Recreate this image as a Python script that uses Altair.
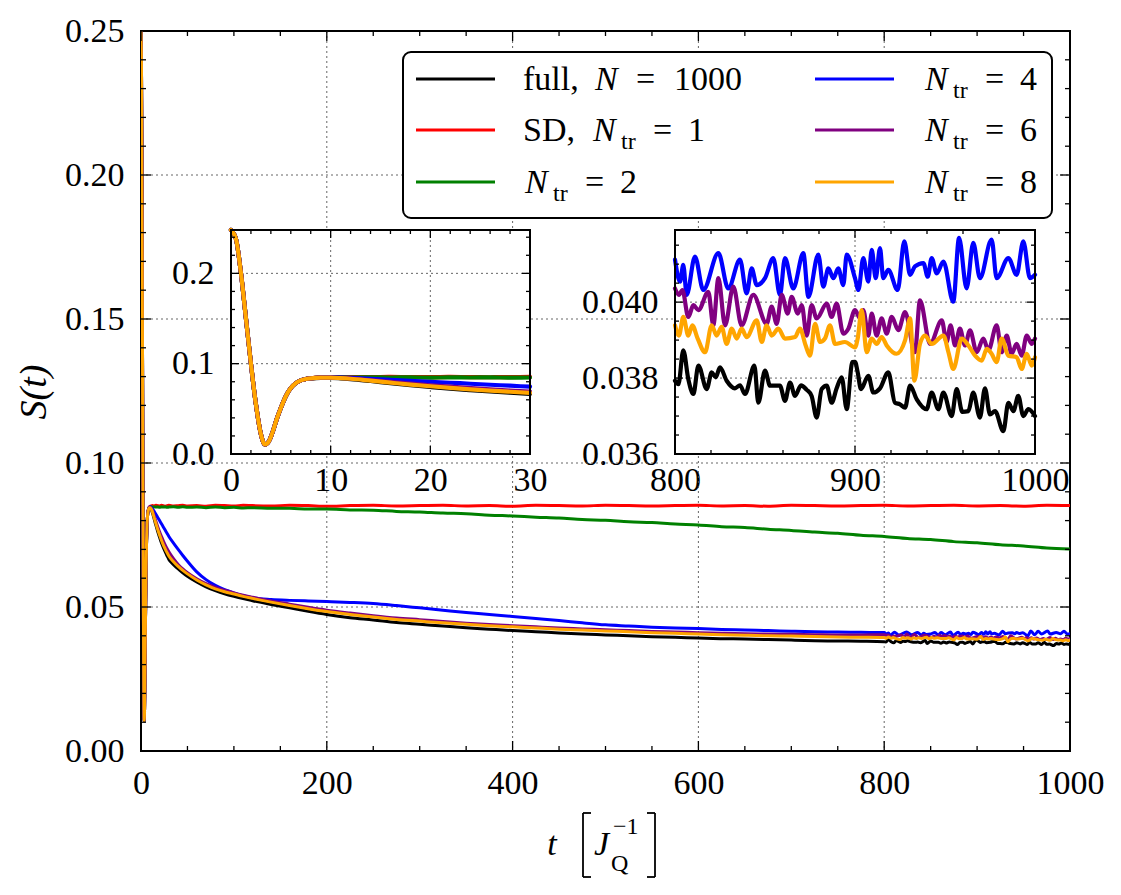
import altair as alt
import pandas as pd

# ------------------------------------------------------------------ data
SERIES = ["full", "SD1", "Ntr2", "Ntr4", "Ntr6", "Ntr8"]
COLORS = ["#000000", "#ff0000", "#008000", "#0000ff", "#800080", "#ffa500"]

# common early transient (all series identical)
T_EARLY = [0, 0.5, 1.0, 1.5, 2.0, 2.5, 3.0, 3.4, 3.8, 4.2, 4.6, 5.0, 5.5, 6.0, 6.5, 7.0, 7.5, 8.0]
S_EARLY = [0.250, 0.238, 0.200, 0.150, 0.100, 0.055, 0.022, 0.0105, 0.014, 0.025, 0.039, 0.051,
           0.064, 0.073, 0.0785, 0.0815, 0.083, 0.0838]

T_MID = [9, 10, 11, 12, 14, 16, 18, 20, 22, 24, 26, 28, 30, 35, 40, 45, 50, 60, 70, 80, 90, 100,
         110, 120, 140, 160, 180, 200, 225, 250, 275, 300, 325, 350, 375, 400, 425, 450, 475, 500,
         525, 550, 575, 600, 625, 650, 675, 700, 725, 750, 775]

BLACK_MID = [0.0843, 0.0843, 0.0838, 0.0830, 0.0808, 0.0784, 0.0762, 0.0742, 0.0723, 0.0707, 0.0692,
             0.0678, 0.0665, 0.0647, 0.0632, 0.0619, 0.0607, 0.0587, 0.0570, 0.0557, 0.0546, 0.0537,
             0.0529, 0.0522, 0.0509, 0.0497, 0.0485, 0.0474, 0.0463, 0.0455, 0.0446, 0.0440, 0.0434,
             0.0428, 0.0423, 0.0418, 0.0414, 0.0410, 0.0406, 0.0403, 0.0400, 0.0397, 0.0395, 0.0392,
             0.0390, 0.0389, 0.0387, 0.0385, 0.0383, 0.0382, 0.0381]
RED_MID = [0.0848, 0.0850, 0.0851, 0.0852, 0.0851, 0.0853, 0.0852, 0.0851, 0.0853, 0.0852, 0.0850,
           0.0852, 0.0853, 0.0851, 0.0852, 0.0853, 0.0851, 0.0852, 0.0850, 0.0853, 0.0852, 0.0851,
           0.0853, 0.0852, 0.0851, 0.0853, 0.0852, 0.0850, 0.0852, 0.0853, 0.0851, 0.0852, 0.0853,
           0.0851, 0.0852, 0.0850, 0.0853, 0.0852, 0.0851, 0.0853, 0.0852, 0.0851, 0.0852, 0.0853,
           0.0851, 0.0852, 0.0850, 0.0853, 0.0852, 0.0851, 0.0852]
GREEN_MID = [0.0846, 0.0847, 0.0848, 0.0847, 0.0848, 0.0847, 0.0848, 0.0846, 0.0848, 0.0847, 0.0848,
             0.0846, 0.0847, 0.0848, 0.0846, 0.0848, 0.0846, 0.0847, 0.0845, 0.0847, 0.0845, 0.0846,
             0.0844, 0.0845, 0.0843, 0.0843, 0.0840, 0.0840, 0.0837, 0.0836, 0.0832, 0.0830, 0.0826,
             0.0824, 0.0819, 0.0816, 0.0812, 0.0809, 0.0804, 0.0801, 0.0796, 0.0793, 0.0788, 0.0785,
             0.0779, 0.0776, 0.0770, 0.0766, 0.0760, 0.0756, 0.0749]
BLUE_MID = [0.0847, 0.0848, 0.0845, 0.0842, 0.0833, 0.0822, 0.0811, 0.0800, 0.0789, 0.0778, 0.0767,
            0.0756, 0.0745, 0.0722, 0.0700, 0.0679, 0.0659, 0.0622, 0.0595, 0.0575, 0.0560, 0.0549,
            0.0539, 0.0532, 0.0526, 0.0523, 0.0521, 0.0519, 0.0516, 0.0512, 0.0505, 0.0497, 0.0489,
            0.0481, 0.0474, 0.0467, 0.0460, 0.0453, 0.0445, 0.0438, 0.0434, 0.0430, 0.0427, 0.0425,
            0.0422, 0.0420, 0.0418, 0.0416, 0.0414, 0.0413, 0.0412]
PURPLE_MID = [0.0846, 0.0846, 0.0842, 0.0836, 0.0818, 0.0798, 0.0779, 0.0761, 0.0745, 0.0730, 0.0716,
              0.0703, 0.0692, 0.0668, 0.0648, 0.0632, 0.0619, 0.0598, 0.0581, 0.0568, 0.0558, 0.0549,
              0.0541, 0.0534, 0.0521, 0.0510, 0.0499, 0.0489, 0.0479, 0.0470, 0.0462, 0.0456, 0.0450,
              0.0444, 0.0439, 0.0435, 0.0431, 0.0427, 0.0424, 0.0421, 0.0418, 0.0415, 0.0413, 0.0411,
              0.0409, 0.0407, 0.0406, 0.0405, 0.0404, 0.0403, 0.0403]
ORANGE_MID = [0.0845, 0.0845, 0.0840, 0.0833, 0.0812, 0.0790, 0.0769, 0.0750, 0.0732, 0.0716, 0.0702,
              0.0689, 0.0677, 0.0657, 0.0641, 0.0627, 0.0615, 0.0594, 0.0577, 0.0563, 0.0553, 0.0545,
              0.0537, 0.0530, 0.0517, 0.0505, 0.0494, 0.0484, 0.0474, 0.0465, 0.0457, 0.0451, 0.0445,
              0.0440, 0.0435, 0.0431, 0.0427, 0.0423, 0.0420, 0.0417, 0.0414, 0.0411, 0.0409, 0.0406,
              0.0404, 0.0402, 0.0400, 0.0399, 0.0398, 0.0396, 0.0395]

# late times: red / green (coarse)
T_TAIL = [800, 825, 850, 875, 900, 925, 950, 975, 1000]
RED_TAIL = [0.0853, 0.0851, 0.0852, 0.0853, 0.0851, 0.0852, 0.0850, 0.0853, 0.0852]
GREEN_TAIL = [0.0745, 0.0738, 0.0734, 0.0727, 0.0723, 0.0716, 0.0712, 0.0705, 0.0701]

# late times: fluctuating series
T_BLACK_Z = [800.0, 801.9, 804.6, 807.4, 810.2, 813.0, 817.6, 820.4, 822.6, 825.0, 828.7, 833.3, 836.1,
             838.9, 844.1, 846.3, 850.0, 852.8, 858.3, 861.1, 863.9, 866.7, 870.0, 873.2, 875.9, 878.7,
             881.5, 884.3, 887.0, 889.8, 892.6, 895.4, 898.5, 900.0, 901.5, 903.3, 907.4, 910.2, 913.9,
             918.5, 922.2, 925.0, 927.8, 930.6, 934.3, 939.8, 942.6, 946.3, 949.1, 953.7, 956.5, 959.6,
             963.0, 965.7, 969.4, 972.2, 975.0, 977.8, 982.4, 985.2, 988.0, 990.7, 993.5, 996.3, 1000.0]
S_BLACK_Z = [0.03793, 0.03784, 0.03873, 0.03797, 0.03758, 0.03833, 0.03771, 0.03815, 0.03802, 0.03828,
             0.03793, 0.03773, 0.03781, 0.03758, 0.03833, 0.03735, 0.03820, 0.03780, 0.03780, 0.03740,
             0.03788, 0.03753, 0.03781, 0.03769, 0.03753, 0.03696, 0.03771, 0.03780, 0.03735, 0.03773,
             0.03802, 0.03718, 0.03842, 0.03843, 0.03815, 0.03771, 0.03806, 0.03762, 0.03773, 0.03815,
             0.03735, 0.03731, 0.03722, 0.03780, 0.03744, 0.03718, 0.03762, 0.03718, 0.03762, 0.03700,
             0.03771, 0.03711, 0.03713, 0.03762, 0.03696, 0.03773, 0.03704, 0.03713, 0.03660, 0.03735,
             0.03713, 0.03753, 0.03700, 0.03718, 0.03700]
T_BLUE_Z = [800.0, 802.8, 804.6, 806.5, 811.1, 815.7, 824.1, 829.6, 836.1, 839.8, 842.6, 845.4, 850.0,
            854.6, 858.3, 861.1, 865.7, 871.3, 874.1, 879.6, 882.4, 885.2, 888.0, 890.7, 893.5, 895.4,
            900.0, 901.9, 904.6, 907.4, 909.3, 911.5, 913.9, 915.7, 918.5, 923.7, 927.4, 930.6, 933.3,
            938.0, 940.4, 942.6, 945.4, 949.1, 954.6, 957.8, 962.0, 965.7, 969.4, 975.9, 978.7, 985.2,
            989.8, 993.5, 997.2, 1000.0]
S_BLUE_Z = [0.04112, 0.04054, 0.04098, 0.04019, 0.04120, 0.04032, 0.04129, 0.04036, 0.04112, 0.04023,
            0.04089, 0.04045, 0.04063, 0.04116, 0.04019, 0.04116, 0.04036, 0.04129, 0.04014, 0.04125,
            0.04041, 0.04089, 0.04063, 0.04089, 0.04045, 0.04125, 0.04063, 0.04032, 0.04116, 0.04054,
            0.04138, 0.04063, 0.04142, 0.04063, 0.04085, 0.04032, 0.04160, 0.04072, 0.04094, 0.04103,
            0.04067, 0.04116, 0.04076, 0.04107, 0.04001, 0.04169, 0.04036, 0.04156, 0.04063, 0.04165,
            0.04063, 0.04116, 0.04072, 0.04160, 0.04063, 0.04072]
T_PURPLE_Z = [800.0, 802.2, 804.1, 807.4, 810.2, 813.0, 818.5, 821.3, 824.1, 827.8, 832.4, 837.0, 843.5,
              850.9, 853.7, 856.5, 859.3, 862.6, 864.8, 868.2, 870.4, 873.2, 875.9, 878.7, 884.3, 887.0,
              889.8, 893.5, 896.3, 900.0, 902.8, 904.6, 907.4, 909.3, 912.0, 914.8, 917.6, 920.4, 924.1,
              927.8, 933.3, 936.1, 941.7, 948.2, 950.9, 953.1, 955.6, 958.3, 961.1, 963.9, 967.6, 971.3,
              974.1, 978.7, 981.5, 984.3, 987.0, 989.8, 992.6, 995.4, 998.2, 1000.0]
S_PURPLE_Z = [0.04036, 0.04019, 0.04032, 0.03961, 0.03992, 0.03979, 0.04027, 0.03939, 0.04063, 0.03939,
              0.04041, 0.03939, 0.04019, 0.03943, 0.03988, 0.03943, 0.04019, 0.03970, 0.04014, 0.03970,
              0.03992, 0.03912, 0.03992, 0.03957, 0.03996, 0.03961, 0.03996, 0.03917, 0.03930, 0.03979,
              0.03957, 0.03979, 0.03912, 0.03970, 0.03912, 0.03957, 0.03917, 0.03961, 0.03926, 0.03974,
              0.03868, 0.04005, 0.03890, 0.03952, 0.03895, 0.03939, 0.03886, 0.03930, 0.03886, 0.03926,
              0.03868, 0.03904, 0.03873, 0.03939, 0.03868, 0.03912, 0.03864, 0.03890, 0.03859, 0.03912,
              0.03890, 0.03904]
T_ORANGE_Z = [800.0, 802.2, 804.6, 807.4, 809.6, 812.6, 816.7, 820.4, 823.1, 825.9, 828.7, 831.5, 834.3,
              837.0, 839.8, 845.4, 848.2, 850.9, 853.7, 857.4, 861.1, 866.7, 869.4, 872.6, 875.0, 877.8,
              880.6, 883.3, 886.1, 888.9, 894.4, 900.0, 901.5, 903.7, 906.5, 909.3, 912.0, 914.8, 917.6,
              923.1, 927.8, 930.6, 933.0, 936.1, 938.9, 942.6, 949.1, 951.9, 954.6, 959.3, 963.0, 966.7,
              970.4, 973.2, 975.9, 978.7, 981.5, 985.2, 989.8, 992.6, 995.4, 998.2, 1000.0]
S_ORANGE_Z = [0.03939, 0.03912, 0.03961, 0.03912, 0.03939, 0.03904, 0.03868, 0.03939, 0.03912, 0.03935,
              0.03890, 0.03930, 0.03904, 0.03930, 0.03908, 0.03952, 0.03895, 0.03939, 0.03912, 0.03930,
              0.03904, 0.03908, 0.03930, 0.03886, 0.03859, 0.03943, 0.03895, 0.03904, 0.03939, 0.03890,
              0.03895, 0.03881, 0.03904, 0.03979, 0.03868, 0.03904, 0.03890, 0.03908, 0.03886, 0.03864,
              0.03899, 0.03957, 0.03793, 0.03890, 0.03912, 0.03890, 0.03912, 0.03868, 0.03824, 0.03904,
              0.03886, 0.03859, 0.03846, 0.03877, 0.03864, 0.03842, 0.03904, 0.03859, 0.03855, 0.03824,
              0.03864, 0.03833, 0.03855]

# axis tick values
MAIN_X_MAJOR = [0, 200, 400, 600, 800, 1000]
MAIN_Y_MAJOR = [0.0, 0.05, 0.10, 0.15, 0.20, 0.25]
IN1_X_MAJOR = [0, 10, 20, 30]
IN1_Y_MAJOR = [0.0, 0.1, 0.2]
IN2_X_MAJOR = [800, 900, 1000]
IN2_Y_MAJOR = [0.036, 0.038, 0.040]

# legend label pieces: (text, style) style: r=roman, i=italic, s=subscript
LEGEND_LABELS = [
    [("full,", "r"), ("N", "i"), ("=", "r"), ("1000", "r")],
    [("SD,", "r"), ("N", "i"), ("tr", "s"), ("=", "r"), ("1", "r")],
    [("N", "i"), ("tr", "s"), ("=", "r"), ("2", "r")],
    [("N", "i"), ("tr", "s"), ("=", "r"), ("4", "r")],
    [("N", "i"), ("tr", "s"), ("=", "r"), ("6", "r")],
    [("N", "i"), ("tr", "s"), ("=", "r"), ("8", "r")],
]

# ------------------------------------------------------------------ assemble series
mids = [BLACK_MID, RED_MID, GREEN_MID, BLUE_MID, PURPLE_MID, ORANGE_MID]
tails = [(T_BLACK_Z, S_BLACK_Z), (T_TAIL, RED_TAIL), (T_TAIL, GREEN_TAIL),
         (T_BLUE_Z, S_BLUE_Z), (T_PURPLE_Z, S_PURPLE_Z), (T_ORANGE_Z, S_ORANGE_Z)]
frames = []
for name, mid, (tt, ss) in zip(SERIES, mids, tails):
    assert len(mid) == len(T_MID), name
    assert len(tt) == len(ss), name
    frames.append(pd.DataFrame({"t": T_EARLY + T_MID + tt, "s": S_EARLY + mid + ss}))

# ------------------------------------------------------------------ layout
W, H = 929, 720
PAD = {"left": 141, "top": 31, "right": 51, "bottom": 144}
FONT = "'Liberation Serif', 'Times New Roman', Times, 'DejaVu Serif', 'Noto Serif', serif"
FS = 34
IN1_X, IN1_Y = [90, 389], [423, 199]
IN2_X, IN2_Y = [534, 894], [423, 199]


def sc(dom, rng, clamp=False):
    return alt.Scale(domain=dom, range=rng, nice=False, zero=False, clamp=clamp)


MX, MY = sc([0, 1000], [0, W]), sc([0, 0.25], [H, 0])
AX, AY = sc([0, 30], IN1_X, True), sc([0, 0.248], IN1_Y, True)
BX, BY = sc([800, 1000], IN2_X, True), sc([0.036, 0.0419], IN2_Y, True)

ONE = alt.Data(values=[{}])


def lab_axis(values, fmt, orient, offset, pad):
    return alt.Axis(values=values, format=fmt, orient=orient, offset=offset, labelPadding=pad,
                    ticks=False, domain=False, grid=False, labelFont=FONT, labelFontSize=FS,
                    labelColor="black", labelFlush=False, labelOverlap=False, title=None)


def line(df, xs, ys, color, width, clip=False):
    return alt.Chart(df).mark_line(color=color, strokeWidth=width, interpolate="monotone",
                                   clip=clip, strokeJoin="round", strokeCap="round").encode(
        x=alt.X("t:Q", scale=xs, axis=None), y=alt.Y("s:Q", scale=ys, axis=None))


def vrules(vals, xs, y0, y1, axis=None, grid=False, width=1.3):
    m = (alt.Chart(pd.DataFrame({"v": vals})).mark_rule(color="#555", strokeWidth=0.9, strokeDash=[2, 3])
         if grid else alt.Chart(pd.DataFrame({"v": vals})).mark_rule(color="black", strokeWidth=width))
    return m.encode(x=alt.X("v:Q", scale=xs, axis=axis), y=alt.value(y0), y2=alt.value(y1))


def hrules(vals, ys, x0, x1, axis=None, grid=False, width=1.3):
    m = (alt.Chart(pd.DataFrame({"v": vals})).mark_rule(color="#555", strokeWidth=0.9, strokeDash=[2, 3])
         if grid else alt.Chart(pd.DataFrame({"v": vals})).mark_rule(color="black", strokeWidth=width))
    return m.encode(y=alt.Y("v:Q", scale=ys, axis=axis), x=alt.value(x0), x2=alt.value(x1))


def box(x0, x1, y0, y1, fill):
    if fill:
        m = alt.Chart(ONE).mark_rect(fill="white", strokeWidth=0)
    else:
        m = alt.Chart(ONE).mark_rect(fillOpacity=0, stroke="black", strokeWidth=2)
    return m.encode(x=alt.value(x0), x2=alt.value(x1), y=alt.value(y0), y2=alt.value(y1))


def seg(x0, y0, x1, y1, width=1.8):
    return alt.Chart(ONE).mark_rule(color="black", strokeWidth=width).encode(
        x=alt.value(x0), y=alt.value(y0), x2=alt.value(x1), y2=alt.value(y1))


def txt(s, x, y, size=FS, italic=False, align="left", baseline="alphabetic", angle=0):
    kw = dict(text=s, font=FONT, fontSize=size, align=align, baseline=baseline, color="black")
    if italic:
        kw["fontStyle"] = "italic"
    if angle:
        kw["angle"] = angle
    return alt.Chart(ONE).mark_text(**kw).encode(x=alt.value(x), y=alt.value(y))


def minors(lo, hi, step, majors):
    out, k = [], 0
    while lo + k * step <= hi + 1e-12:
        v = round(lo + k * step, 6)
        if all(abs(v - m) > 1e-9 for m in majors):
            out.append(v)
        k += 1
    return out


layers = []
# main grid
layers.append(vrules([200, 400, 600, 800], MX, 0, H, grid=True))
layers.append(hrules([0.05, 0.10, 0.15, 0.20], MY, 0, W, grid=True))
# main curves
for df, c in zip(frames, COLORS):
    layers.append(line(df, MX, MY, c, 3.0, clip=True))


def inset(xs, ys, X, Y, xmaj, xmin, ymaj, ymin, xgrid, ygrid, tmin, tmax, series_idx, xfmt, yfmt):
    out = [box(X[0], X[1], Y[1], Y[0], True),
           vrules(xgrid, xs, Y[1], Y[0], grid=True),
           hrules(ygrid, ys, X[0], X[1], grid=True)]
    for i in series_idx:
        d = frames[i][(frames[i].t >= tmin) & (frames[i].t <= tmax)]
        out.append(line(d, xs, ys, COLORS[i], 4.2))
    out.append(box(X[0], X[1], Y[1], Y[0], False))
    out += [vrules(xmaj, xs, Y[0], Y[0] - 8, axis=lab_axis(xmaj, xfmt, "bottom", -(H - Y[0]), 9)),
            vrules(xmin, xs, Y[0], Y[0] - 4),
            vrules(xmaj, xs, Y[1], Y[1] + 8), vrules(xmin, xs, Y[1], Y[1] + 4),
            hrules(ymaj, ys, X[0], X[0] + 8, axis=lab_axis(ymaj, yfmt, "left", -X[0], 17)),
            hrules(ymin, ys, X[0], X[0] + 4),
            hrules(ymaj, ys, X[1], X[1] - 8), hrules(ymin, ys, X[1], X[1] - 4)]
    return out


layers += inset(AX, AY, IN1_X, IN1_Y, IN1_X_MAJOR, minors(0, 30, 2, IN1_X_MAJOR),
                IN1_Y_MAJOR, minors(0, 0.24, 0.02, IN1_Y_MAJOR), [10, 20], [0.1, 0.2],
                0, 30, range(6), "d", ".1f")
layers += inset(BX, BY, IN2_X, IN2_Y, IN2_X_MAJOR, minors(800, 1000, 20, IN2_X_MAJOR),
                IN2_Y_MAJOR, minors(0.036, 0.0415, 0.0005, IN2_Y_MAJOR), [900], [0.038, 0.040],
                800, 1000, [0, 3, 4, 5], "d", ".3f")

# main ticks (inward, all four sides) + tick labels
mx_min = minors(0, 1000, 50, MAIN_X_MAJOR)
my_min = minors(0, 0.25, 0.01, MAIN_Y_MAJOR)
layers += [
    vrules(MAIN_X_MAJOR, MX, H, H - 10, axis=lab_axis(MAIN_X_MAJOR, "d", "bottom", 0, 15)),
    vrules(mx_min, MX, H, H - 5), vrules(MAIN_X_MAJOR, MX, 0, 10), vrules(mx_min, MX, 0, 5),
    hrules(MAIN_Y_MAJOR, MY, 0, 10, axis=lab_axis(MAIN_Y_MAJOR, ".2f", "left", 0, 17)),
    hrules(my_min, MY, 0, 5), hrules(MAIN_Y_MAJOR, MY, W, W - 10), hrules(my_min, MY, W, W - 5),
]

# legend
layers.append(alt.Chart(ONE).mark_rect(fill="white", stroke="black", strokeWidth=2, cornerRadius=8)
              .encode(x=alt.value(262), x2=alt.value(911), y=alt.value(21), y2=alt.value(187)))
ROW_Y = [48, 99, 151]
COL_LINE = [(275, 354), (674, 753)]
PIECE_X = [[382, 454, 495, 533], [382, 452, 480, 512, 547], [384, 412, 444, 479],
           [784, 812, 844, 879], [784, 812, 844, 879], [784, 812, 844, 879]]
for i, (pieces, c) in enumerate(zip(LEGEND_LABELS, COLORS)):
    col, row = i // 3, i % 3
    y = ROW_Y[row]
    layers.append(alt.Chart(ONE).mark_rule(color=c, strokeWidth=3.2).encode(
        x=alt.value(COL_LINE[col][0]), x2=alt.value(COL_LINE[col][1]), y=alt.value(y)))
    for (s, st), x in zip(pieces, PIECE_X[i]):
        if st == "s":
            layers.append(txt(s, x, y + 19, size=24))
        else:
            layers.append(txt(s, x, y + 11, italic=(st == "i")))

# axis titles: t [J_Q^-1] with drawn brackets
layers += [
    txt("t", 411, 824, italic=True, align="center"),
    seg(442, 782, 442, 846), seg(442, 782, 450, 782), seg(442, 846, 450, 846),
    txt("J", 453, 824, italic=True),
    txt("\u22121", 472, 803, size=24),
    txt("Q", 470, 840, size=24),
    seg(514, 782, 514, 846), seg(506, 782, 514, 782), seg(506, 846, 514, 846),
    txt("S(t)", -106, 361, size=38, italic=True, align="center", baseline="middle", angle=270),
]

chart = (alt.layer(*layers)
         .resolve_scale(x="independent", y="independent")
         .properties(width=W, height=H, autosize=alt.AutoSizeParams(type="none"), padding=PAD,
                     background="white")
         .configure_view(stroke="black", strokeWidth=2))

chart.save("out.html", embed_options={"renderer": "svg", "actions": False})
